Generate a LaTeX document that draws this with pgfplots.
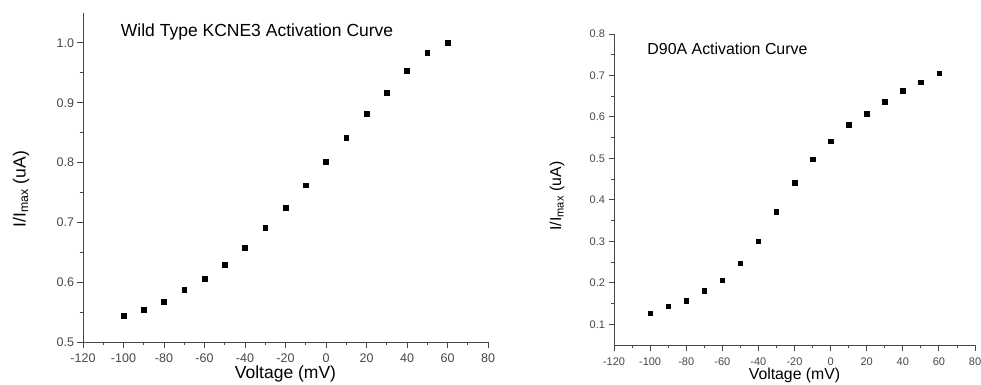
\documentclass[border=0pt]{standalone}
\usepackage{fontspec}
\setmainfont{Liberation Sans}
\usepackage{pgfplots}
\pgfplotsset{compat=1.18}
\definecolor{axgray}{gray}{0.28}
\pgfplotsset{
 common/.style={
  scale only axis,
  axis x line*=bottom, axis y line*=left,
  axis line style={axgray, line width=0.9bp},
  tick align=outside,
  major tick length=5.5bp, minor tick length=3bp,
  every tick/.style={axgray, line width=0.9bp},
  xmin=-120, xmax=80, xtick={-120,-100,...,80}, minor x tick num=1,
  minor y tick num=1,
  /pgf/number format/assume math mode=true,
  ticklabel style={text=axgray},
  xticklabel style={anchor=center, yshift=-11bp},
  yticklabel style={/pgf/number format/.cd, fixed, fixed zerofill, precision=1},
  clip=false,
 }
}
\begin{document}
\begin{tikzpicture}
\path[use as bounding box] (0,0) rectangle (981bp,385bp);
\begin{axis}[common,
  at={(83bp,43bp)}, anchor=south west,
  width=405bp, height=329bp,
  ymin=0.5, ymax=1.05, ytick={0.5,0.6,...,1.0},
  ticklabel style={font=\fontsize{12.5bp}{14bp}\selectfont},
  label style={font=\fontsize{17.5bp}{20bp}\selectfont},
  xlabel={Voltage (mV)}, ylabel={I/I\textsubscript{max} (uA)},
  xlabel style={at={(axis description cs:0.5,0)}, anchor=center, yshift=-32bp},
  ylabel style={at={(axis description cs:-0.153,0.465)}, anchor=center},
]
\addplot[only marks, mark=square*, mark size=2.4bp, black] coordinates {
(-100,0.544) (-90,0.554) (-80,0.568) (-70,0.587) (-60,0.606) (-50,0.629)
(-40,0.658) (-30,0.691) (-20,0.724) (-10,0.762) (0,0.802) (10,0.841)
(20,0.881) (30,0.917) (40,0.954) (50,0.983) (60,1.0)};
\node[anchor=west, font=\fontsize{17.5bp}{20bp}\selectfont] at (axis cs:-103,1.018) {Wild Type KCNE3 Activation Curve};
\end{axis}
\begin{axis}[common,
  at={(614bp,40bp)}, anchor=south west,
  width=361bp, height=311bp,
  ymin=0.05, ymax=0.8, ytick={0.1,0.2,...,0.8},
  ticklabel style={font=\fontsize{11bp}{13bp}\selectfont},
  label style={font=\fontsize{15.8bp}{18bp}\selectfont},
  xlabel={Voltage (mV)}, ylabel={I/I\textsubscript{max} (uA)},
  xlabel style={at={(axis description cs:0.5,0)}, anchor=center, yshift=-30bp},
  ylabel style={at={(axis description cs:-0.158,0.479)}, anchor=center},
]
\addplot[only marks, mark=square*, mark size=2.2bp, black] coordinates {
(-100,0.127) (-90,0.143) (-80,0.157) (-70,0.181) (-60,0.206) (-50,0.247)
(-40,0.300) (-30,0.371) (-20,0.441) (-10,0.498) (0,0.541) (10,0.581)
(20,0.608) (30,0.637) (40,0.663) (50,0.684) (60,0.706)};
\node[anchor=west, font=\fontsize{15.9bp}{18bp}\selectfont] at (axis cs:-103.4,0.765) {D90A Activation Curve};
\end{axis}
\end{tikzpicture}
\end{document}
